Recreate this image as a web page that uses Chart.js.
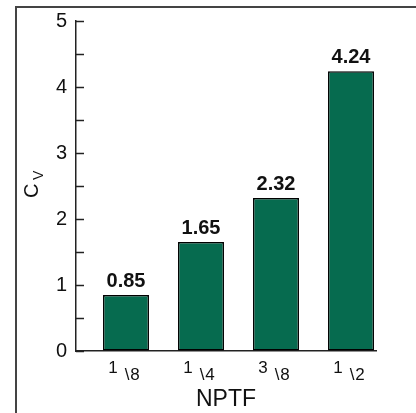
<!DOCTYPE html>
<html lang="en">
<head>
  <meta charset="UTF-8">
  <title>CV vs NPTF</title>
  <script src="https://cdn.jsdelivr.net/npm/chart.js"></script>
  <style>
    html, body { margin: 0; padding: 0; background: #fff; }
    #wrap { width: 416px; height: 413px; }
  </style>
</head>
<body>
  <div id="wrap"><canvas id="chartCanvas" width="416" height="413"></canvas></div>

  <script>
    // Datos
    const positions = [0, 1, 2, 3];
    const numerators = ['1', '1', '3', '1'];
    const denominators = ['8', '4', '8', '2'];
    const cvValues = [0.85, 1.65, 2.32, 4.24];
    const valueLabels = ['0.85', '1.65', '2.32', '4.24'];

    const FONT = '"Liberation Sans", Arial, Helvetica, sans-serif';
    const BAR_COLOR = '#066b4f';

    // Marco, ticks hacia dentro, etiquetas de fracción, valores y título Y
    const decor = {
      id: 'decor',
      afterDraw(chart) {
        const ctx = chart.ctx;
        const xs = chart.scales.x, ys = chart.scales.y;
        ctx.save();

        // marco exterior (solo arriba e izquierda)
        ctx.strokeStyle = '#444';
        ctx.lineWidth = 2;
        ctx.beginPath();
        ctx.moveTo(16, 413);
        ctx.lineTo(16, 7);
        ctx.lineTo(416, 7);
        ctx.stroke();

        // ticks del eje Y hacia dentro
        ctx.strokeStyle = '#222';
        ctx.lineWidth = 1.5;
        ys.ticks.forEach(t => {
          const y = Math.round(ys.getPixelForValue(t.value)) + 0.5;
          ctx.beginPath();
          ctx.moveTo(xs.left, y);
          ctx.lineTo(xs.left + 8, y);
          ctx.stroke();
        });

        // etiquetas del eje X (fracciones)
        ctx.fillStyle = '#111';
        ctx.textBaseline = 'alphabetic';
        positions.forEach((p, i) => {
          const cx = xs.getPixelForValue(p);
          ctx.textAlign = 'center';
          ctx.font = '17px ' + FONT;
          ctx.fillText(numerators[i], cx - 13, 373);
          ctx.font = '17px ' + FONT;
          ctx.fillText('\\', cx + 1, 380);
          ctx.fillText(denominators[i], cx + 9, 380);
        });

        // valores encima de las barras
        const meta = chart.getDatasetMeta(0);
        ctx.font = 'bold 20px ' + FONT;
        ctx.textAlign = 'center';
        meta.data.forEach((bar, i) => {
          ctx.fillText(valueLabels[i], bar.x, bar.y - 8);
        });

        // título del eje Y: C con subíndice V
        ctx.translate(38, 198);
        ctx.rotate(-Math.PI / 2);
        ctx.textAlign = 'left';
        ctx.font = '20px ' + FONT;
        ctx.fillText('C', 0, 0);
        ctx.font = '14px ' + FONT;
        ctx.fillText('V', 18, 5);

        ctx.restore();
      }
    };

    new Chart(document.getElementById('chartCanvas'), {
      type: 'bar',
      data: {
        datasets: [{
          data: positions.map((p, i) => ({ x: p, y: cvValues[i] })),
          backgroundColor: BAR_COLOR,
          borderColor: '#000',
          borderWidth: 1.5,
          borderSkipped: false,
          barPercentage: 0.613,
          categoryPercentage: 1
        }]
      },
      options: {
        responsive: false,
        animation: false,
        layout: { padding: { top: 21, right: 40, left: 0, bottom: 0 } },
        plugins: { legend: { display: false }, tooltip: { enabled: false } },
        scales: {
          x: {
            type: 'linear',
            offset: false,
            min: -2 / 3,
            max: 10 / 3,
            ticks: { display: false },
            grid: { display: false, drawTicks: false, offset: false },
            border: { display: true, color: '#222', width: 1.5 },
            title: { display: true, text: 'NPTF', font: { family: FONT, size: 23 }, color: '#111', padding: { top: 0, bottom: 0 } },
            afterFit(s) { s.height = 62; }
          },
          y: {
            min: 0,
            max: 5,
            ticks: {
              stepSize: 0.5,
              padding: 9,
              color: '#111',
              font: { family: FONT, size: 20 },
              callback: v => Number.isInteger(v) ? String(v) : ''
            },
            grid: { drawOnChartArea: false, drawTicks: false },
            border: { display: true, color: '#222', width: 1.5 },
            afterFit(s) { s.width = 76; }
          }
        }
      },
      plugins: [decor]
    });
  </script>
</body>
</html>
